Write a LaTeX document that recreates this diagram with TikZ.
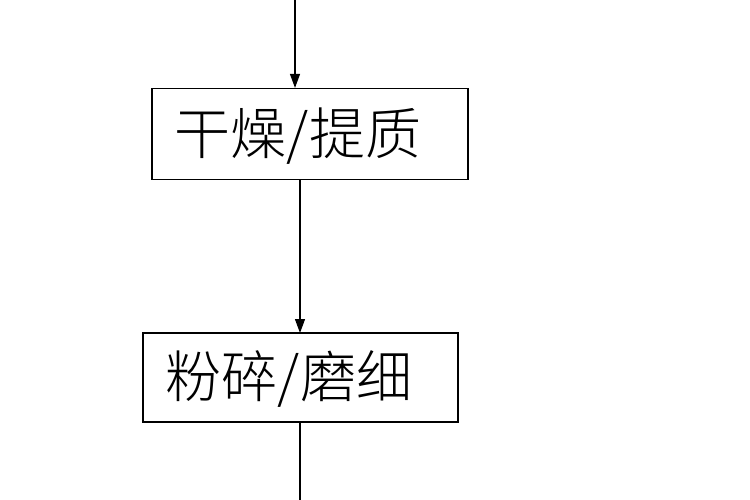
\documentclass[tikz,border=0pt]{standalone}
\usepackage{fontspec}
\newfontfamily\cjk{Noto Sans CJK SC Light}
\usetikzlibrary{arrows.meta}
\begin{document}
\begin{tikzpicture}[x=1pt,y=-1pt,
  boxst/.style={draw,line width=1.2pt,inner sep=0pt},
  lbl/.style={font=\cjk\fontsize{56}{60}\selectfont,inner sep=0pt},
  arr/.style={line width=1.2pt,-{Triangle[length=14pt,width=10pt]}}]
\useasboundingbox[fill=white] (0,0) rectangle (750,500);
\node[boxst,minimum width=316pt,minimum height=91pt] (a) at (310,134) {};
\node[lbl] (at) at (298,136) {干燥/提质};
\node[boxst,minimum width=315pt,minimum height=89pt] (b) at (300.5,377.5) {};
\node[lbl] (bt) at (289,379) {粉碎/磨细};
\coordinate (top) at (295,0);
\coordinate (bot) at (300,500);
\draw[arr] (top) -- (top |- a.north);
\draw[arr] (300,180) -- (300,333);
\draw[line width=1.2pt] (b.south -| bot) -- (bot);
\end{tikzpicture}
\end{document}
